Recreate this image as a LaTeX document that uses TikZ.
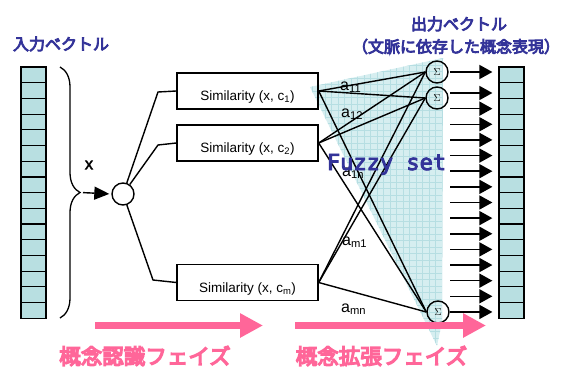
\documentclass[tikz,border=0pt]{standalone}
\usepackage{fontspec}
\setmainfont{Liberation Sans}
\newfontfamily\jp{Noto Sans CJK JP}[FakeBold=5]
\newfontfamily\jpp{Noto Sans CJK JP}[FakeBold=6]
\newfontfamily\monob{DejaVu Sans Mono}[FakeBold=4]
\newfontfamily\sansb{Liberation Sans}[FakeBold=2]
\usetikzlibrary{arrows.meta,decorations.pathreplacing}
\definecolor{cellc}{RGB}{184,223,225}
\definecolor{pinkc}{RGB}{255,102,153}
\definecolor{bluet}{RGB}{51,51,153}
\definecolor{fuzzf}{RGB}{214,238,240}
\definecolor{fuzzg}{RGB}{182,222,226}
\begin{document}
\begin{tikzpicture}[x=1pt,y=-1pt,
  cell/.style={draw=black, line width=1.2pt, fill=cellc, minimum width=25pt, minimum height=15.7pt, inner sep=0pt},
  conn/.style={draw=black, line width=1.4pt},
  simbox/.style={draw=black, line width=1.4pt, minimum width=141pt, minimum height=36pt, inner sep=0pt,
     font=\fontsize{13.5}{14}\selectfont, text height=22pt, text depth=3pt},
  sig/.style={circle, draw=black, line width=1.4pt, minimum size=22pt, inner sep=0pt, font=\fontsize{10}{10}\selectfont},
  outarrow/.style={line width=1.5pt, -{Triangle[length=13pt,width=14pt]}, shorten >=6pt},
  pinkarrow/.style={pinkc, line width=7.5pt, -{Triangle[length=23pt,width=23pt]}},
  title/.style={text=bluet, font=\jp\fontsize{16}{18}\selectfont, inner sep=0pt},
  phase/.style={text=pinkc, font=\jpp\fontsize{21.5}{22}\selectfont, inner sep=0pt},
  alabel/.style={anchor=base west, inner sep=0pt, font=\fontsize{16}{17}\selectfont}
]
\useasboundingbox (0,0) rectangle (565,367);

% fuzzy set region
\begin{scope}
  \clip (310,87) -- (443,58) -- (442,322) -- (437,346) -- cycle;
  \fill[fuzzf] (300,50) rectangle (450,350);
  \draw[fuzzg, line width=0.5pt, step=6.5pt] (300,50) grid (450,350);
\end{scope}

% titles
\node[title] (tin) at (61,44) {入力ベクトル};
\node[title] (tout) at (459,24) {出力ベクトル};
\node[title] (tout2) at (456,46.5) {（文脈に依存した概念表現）};

% input vector
\foreach \i in {0,...,15} \node[cell] (in\i) at (33.5, 74.85+15.7*\i) {};
% output vector
\foreach \i in {0,...,15} \node[cell] (out\i) at (511.5, 74.85+15.7*\i) {};

% brace
\draw[decorate, decoration={brace, amplitude=20pt}, line width=1.3pt] (60,67) -- (60,318);
\coordinate (bt) at (81,192.5);

% input circle
\node[circle, draw=black, line width=1.4pt, minimum size=22pt, inner sep=0pt] (c) at (123,194) {};
\draw[line width=1.4pt, -{Triangle[length=15pt,width=13pt]}, shorten <=2pt, shorten >=2pt] (bt) -- (c.west);
\node[font=\sansb\fontsize{17}{17}\selectfont, inner sep=0pt] (xl) at (89,165) {x};

% similarity boxes
\node[simbox] (b1) at (247.5,91) {Similarity (x, c\textsubscript{1})};
\node[simbox] (b2) at (247.5,143) {Similarity (x, c\textsubscript{2})};
\node[simbox] (bm) at (247.5,282.5) {Similarity (x, c\textsubscript{m})};

\coordinate (k1) at (158,92);
\coordinate (k2) at (158,145);
\coordinate (km) at (153,280);
\draw[conn] (c) -- (k1) -- (b1.west);
\draw[conn] (c) -- (k2) -- (b2.west);
\draw[conn] (c) -- (km) -- (bm.west);

% sigma nodes
\node[sig] (s1) at (437,72) {$\Sigma$};
\node[sig] (s2) at (437,98) {$\Sigma$};
\node[sig] (sn) at (438,312) {$\Sigma$};

\foreach \b in {b1,b2,bm}
  \foreach \s in {s1,s2,sn}
    \draw[conn] (\b.east) -- (\s.west);

% output arrows
\coordinate (ao0) at (450,72);
\foreach \i in {1,...,15} \coordinate (ao\i) at (450, 93+15.64*\i-15.64);
\foreach \i in {0,...,15} \draw[outarrow] (ao\i) -- (ao\i -| out\i.west);

% weight labels
\node[alabel] (a11) at (340,90) {a\textsubscript{11}};
\node[alabel] (a12) at (341,117) {a\textsubscript{12}};
\node[alabel] (a1n) at (342,176) {a\textsubscript{1n}};
\node[alabel] (am1) at (342,245) {a\textsubscript{m1}};
\node[alabel] (amn) at (341,312) {a\textsubscript{mn}};

% fuzzy set label
\node[anchor=base, inner sep=0pt, text=bluet, font=\monob\fontsize{22}{22}\selectfont] (fz) at (386.5,170) {Fuzzy set};

% phase arrows
\coordinate (p1s) at (95,325.5);
\coordinate (p1e) at (263,325.5);
\coordinate (p2s) at (295,325.5);
\coordinate (p2e) at (486,325.5);
\draw[pinkarrow] (p1s) -- (p1e);
\draw[pinkarrow] (p2s) -- (p2e);
\node[phase] (ph1) at (145,356) {概念認識フェイズ};
\node[phase] (ph2) at (381.5,356) {概念拡張フェイズ};
\end{tikzpicture}
\end{document}
